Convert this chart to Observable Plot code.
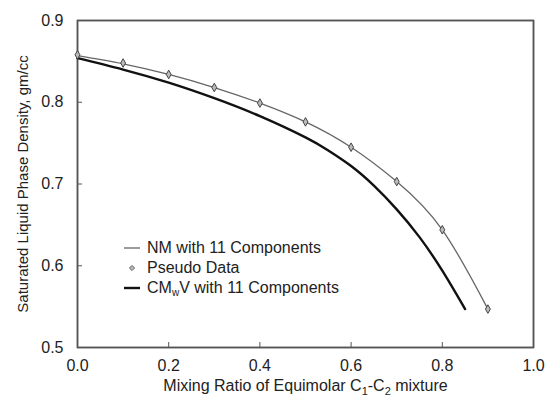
<!DOCTYPE html>
<html><head><meta charset="utf-8">
<script src="https://cdn.jsdelivr.net/npm/d3@7"></script>
<script src="https://cdn.jsdelivr.net/npm/@observablehq/plot@0.6"></script>
<style>
body{margin:0;background:#fff;font-family:"Liberation Sans",Arial,sans-serif;}
#wrap{position:relative;width:546px;height:396px;}
#legend{position:absolute;left:124px;top:238px;font-size:16px;color:#222;line-height:20px;}
#legend div{display:flex;align-items:center;height:20px;}
#legend svg{width:18px;height:10px;margin-right:5px;}
sub{font-size:10px;vertical-align:-3px;line-height:0;}
</style></head>
<body><div id="wrap"><div id="legend"></div></div>
<script>
const mixX = [0.0, 0.1, 0.2, 0.3, 0.4, 0.5, 0.6, 0.7, 0.8, 0.9];
const pseudoY = [0.858, 0.848, 0.834, 0.818, 0.799, 0.776, 0.745, 0.703, 0.644, 0.547];
const nmY = [0.857, 0.847, 0.834, 0.818, 0.799, 0.776, 0.745, 0.703, 0.644, 0.547];
const cmX = [0.0, 0.1, 0.2, 0.3, 0.4, 0.5, 0.55, 0.6, 0.65, 0.7, 0.75, 0.8, 0.85];
const cmY = [0.854, 0.840, 0.824, 0.805, 0.783, 0.757, 0.741, 0.722, 0.698, 0.669, 0.635, 0.594, 0.547];
const xTicks = [0.0, 0.2, 0.4, 0.6, 0.8, 1.0];
const yTicks = [0.5, 0.6, 0.7, 0.8, 0.9];
const xDomain = [0, 1];
const yDomain = [0.5, 0.9];

const nm = mixX.map((x, i) => ({x, y: nmY[i]}));
const pseudo = mixX.map((x, i) => ({x, y: pseudoY[i]}));
const cm = cmX.map((x, i) => ({x, y: cmY[i]}));
const box = [[0,0],[1,0],[1,1],[0,1],[0,0]].map(([i, j]) => ({x: xDomain[i], y: yDomain[j]}));
const fmt = d3.format(".1f");
const XLABEL = "Mixing Ratio of Equimolar C1-C2 mixture";

const chart = Plot.plot({
  width: 546, height: 396,
  marginLeft: 77, marginRight: 13, marginTop: 20, marginBottom: 49,
  style: {fontFamily: "'Liberation Sans', Arial, sans-serif", fontSize: "16px"},
  x: {domain: xDomain},
  y: {domain: yDomain},
  marks: [
    Plot.frame({stroke: "#555555", strokeWidth: 1.5}),
    Plot.line(box, {x: "x", y: "y", stroke: "#555555", strokeWidth: 1.5, curve: "linear"}),
    Plot.axisX(xTicks, {tickSize: -5, tickFormat: () => "", label: null, stroke: "#555555"}),
    Plot.axisX(xTicks, {tickSize: 0, tickPadding: 12, tickFormat: fmt, fontSize: 16, label: XLABEL, labelAnchor: "center", labelArrow: "none", labelOffset: 43, fill: "#222222"}),
    Plot.axisY(yTicks, {tickSize: -5, tickFormat: () => "", label: null, stroke: "#555555"}),
    Plot.axisY(yTicks, {tickSize: 0, tickPadding: 14, tickFormat: fmt, fontSize: 16, label: "Saturated Liquid Phase Density, gm/cc", labelAnchor: "center", labelArrow: "none", labelOffset: 60, fill: "#222222"}),
    Plot.line(nm, {x: "x", y: "y", curve: "natural", stroke: "#666666", strokeWidth: 1.3}),
    Plot.line(cm, {x: "x", y: "y", curve: "natural", stroke: "#111111", strokeWidth: 2.4}),
    Plot.dot(pseudo, {x: "x", y: "y", symbol: "diamond", r: 2.6, stroke: "#444444", fill: "#bbbbbb", strokeWidth: 1})
  ]
});
document.getElementById("wrap").prepend(chart);

d3.select(chart).selectAll("text").each(function() {
  const t = d3.select(this);
  const s0 = t.text();
  if (s0.startsWith("Saturated")) t.attr("font-size", 15);
  if (s0.startsWith("Mixing Ratio")) {
    t.text("");
    const parts = [["Mixing Ratio of Equimolar C", false], ["1", true], ["-C", false], ["2", true], [" mixture", false]];
    let prevSub = false;
    for (const [s, sub] of parts) {
      const ts = t.append("tspan").text(s);
      if (sub) ts.attr("font-size", "11px").attr("dy", "4");
      else if (prevSub) ts.attr("dy", "-4");
      prevSub = sub;
    }
  }
});

const legend = document.getElementById("legend");
legend.innerHTML = `
<div><svg><line x1="0" y1="5" x2="16" y2="5" stroke="#666" stroke-width="1.3"/></svg><span>NM with 11 Components</span></div>
<div><svg><path d="M8,2.4L10.6,5L8,7.6L5.4,5Z" stroke="#444" fill="#bbb" stroke-width="0.8"/></svg><span>Pseudo Data</span></div>
<div><svg><line x1="0" y1="5" x2="16" y2="5" stroke="#111" stroke-width="2.4"/></svg><span>CM<sub>w</sub>V with 11 Components</span></div>`;
</script>
</body></html>
